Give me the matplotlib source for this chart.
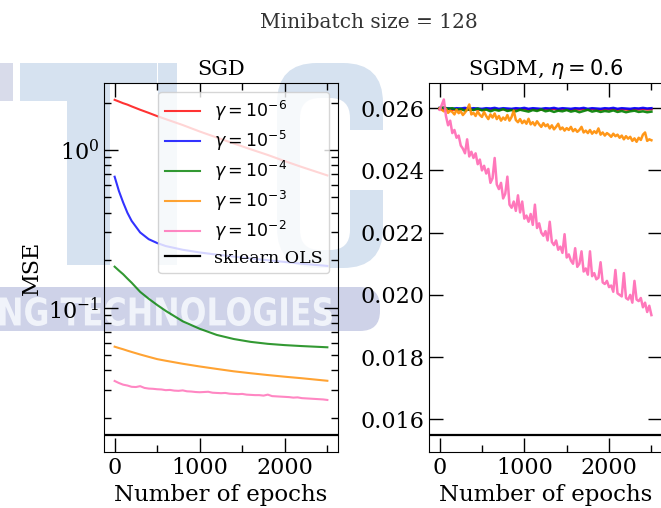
import numpy as np
import matplotlib
matplotlib.use('Agg')
import matplotlib.pyplot as plt
from matplotlib.patches import Rectangle, FancyBboxPatch, PathPatch
from matplotlib.textpath import TextPath
from matplotlib.font_manager import FontProperties
from matplotlib.transforms import Affine2D
from matplotlib.ticker import MultipleLocator

plt.rcParams['font.family'] = 'serif'
plt.rcParams['font.serif'] = ['DejaVu Serif']

# --- data ---
epochs_smooth = [0, 50, 100, 150, 200, 300, 400, 500, 600, 800, 1000, 1200, 1400,
                 1600, 1800, 2000, 2200, 2500]
sgd_g6 = [2.08, 2.03, 1.98, 1.94, 1.89, 1.80, 1.72, 1.64, 1.57, 1.44, 1.31, 1.20, 1.10,
          1.01, 0.93, 0.85, 0.78, 0.69]
sgd_g5 = [0.677, 0.55, 0.465, 0.40, 0.355, 0.30, 0.272, 0.257, 0.246, 0.233, 0.224,
          0.217, 0.211, 0.205, 0.200, 0.195, 0.190, 0.184]
sgd_g4 = [0.182, 0.172, 0.163, 0.153, 0.144, 0.126, 0.114, 0.104, 0.0955, 0.082, 0.0735,
          0.0672, 0.0633, 0.0607, 0.0590, 0.0579, 0.0571, 0.0561]
sgd_g3 = [0.0566, 0.0555, 0.0545, 0.0534, 0.0524, 0.0505, 0.0488, 0.0472, 0.0461, 0.0441,
          0.0424, 0.0409, 0.0395, 0.0384, 0.0374, 0.0365, 0.0357, 0.0344]

epochs_50 = list(range(0, 2501, 50))
sgd_g2 = [0.0343, 0.0333, 0.0325, 0.0321, 0.0315, 0.0314, 0.0318, 0.0310, 0.0307, 0.0306,
          0.0304, 0.0303, 0.0300, 0.0301, 0.0298, 0.0297, 0.0299, 0.0295, 0.0294, 0.0292,
          0.0291, 0.0292, 0.0293, 0.0289, 0.0288, 0.0287, 0.0288, 0.0285, 0.0284, 0.0283,
          0.0284, 0.0281, 0.0280, 0.0279, 0.0279, 0.0277, 0.0281, 0.0275, 0.0274, 0.0273,
          0.0272, 0.0271, 0.0269, 0.0270, 0.0267, 0.0266, 0.0265, 0.0264, 0.0263, 0.0262,
          0.0260]

sgdm_g6 = [0.02598, 0.02596, 0.02597, 0.02595, 0.02597, 0.02596, 0.02598, 0.02595, 0.02597, 0.02596,
           0.02595, 0.02597, 0.02596, 0.02598, 0.02595, 0.02597, 0.02596, 0.02595, 0.02597, 0.02596,
           0.02598, 0.02595, 0.02597, 0.02596, 0.02595, 0.02597, 0.02596, 0.02598, 0.02595, 0.02597,
           0.02596, 0.02595, 0.02597, 0.02596, 0.02598, 0.02595, 0.02597, 0.02596, 0.02595, 0.02597,
           0.02596, 0.02598, 0.02595, 0.02597, 0.02596, 0.02595, 0.02597, 0.02596, 0.02598, 0.02596,
           0.02597]
sgdm_g5 = [0.02601, 0.02599, 0.02600, 0.02598, 0.02600, 0.02599, 0.02601, 0.02598, 0.02600, 0.02599,
           0.02598, 0.02600, 0.02599, 0.02601, 0.02598, 0.02600, 0.02599, 0.02598, 0.02600, 0.02599,
           0.02601, 0.02598, 0.02600, 0.02599, 0.02598, 0.02600, 0.02599, 0.02601, 0.02598, 0.02600,
           0.02599, 0.02598, 0.02600, 0.02599, 0.02601, 0.02598, 0.02600, 0.02599, 0.02598, 0.02600,
           0.02599, 0.02601, 0.02598, 0.02600, 0.02599, 0.02598, 0.02600, 0.02599, 0.02601, 0.02599,
           0.02600]
sgdm_g4 = [0.02600, 0.02603, 0.02598, 0.02600, 0.02595, 0.02598, 0.02592, 0.02597, 0.02594, 0.02599,
           0.02593, 0.02596, 0.02590, 0.02595, 0.02592, 0.02597, 0.02591, 0.02594, 0.02590, 0.02595,
           0.02592, 0.02589, 0.02594, 0.02591, 0.02596, 0.02590, 0.02593, 0.02588, 0.02592, 0.02590,
           0.02594, 0.02589, 0.02592, 0.02587, 0.02591, 0.02595, 0.02589, 0.02592, 0.02588, 0.02591,
           0.02589, 0.02593, 0.02588, 0.02591, 0.02587, 0.02590, 0.02592, 0.02588, 0.02590, 0.02587,
           0.02589]

epochs_25 = list(range(0, 2501, 25))
sgdm_g3 = [0.02600, 0.02595, 0.02590, 0.02598, 0.02585, 0.02592, 0.02588, 0.02580, 0.02595, 0.02584,
           0.02590, 0.02578, 0.02586, 0.02596, 0.02612, 0.02580, 0.02585, 0.02575, 0.02590, 0.02578,
           0.02572, 0.02588, 0.02575, 0.02565, 0.02580, 0.02570, 0.02583, 0.02565, 0.02575, 0.02560,
           0.02570, 0.02563, 0.02578, 0.02560, 0.02572, 0.02592, 0.02562, 0.02555, 0.02565, 0.02552,
           0.02560, 0.02550, 0.02566, 0.02548, 0.02555, 0.02545, 0.02558, 0.02548, 0.02540, 0.02552,
           0.02542, 0.02548, 0.02535, 0.02545, 0.02532, 0.02540, 0.02550, 0.02532, 0.02538, 0.02528,
           0.02536, 0.02530, 0.02540, 0.02526, 0.02533, 0.02524, 0.02530, 0.02540, 0.02522, 0.02528,
           0.02520, 0.02530, 0.02518, 0.02526, 0.02520, 0.02535, 0.02515, 0.02522, 0.02512, 0.02520,
           0.02515, 0.02508, 0.02518, 0.02510, 0.02515, 0.02505, 0.02512, 0.02500, 0.02510, 0.02502,
           0.02508, 0.02495, 0.02503, 0.02492, 0.02505, 0.02498, 0.02515, 0.02522, 0.02495, 0.02500,
           0.02497]
sgdm_g2 = [0.02595, 0.02610, 0.02628, 0.02575, 0.02545, 0.02560, 0.02520, 0.02530, 0.02505, 0.02512,
           0.02480, 0.02470, 0.02455, 0.02500, 0.02445, 0.02460, 0.02440, 0.02455, 0.02420, 0.02435,
           0.02400, 0.02415, 0.02390, 0.02405, 0.02360, 0.02375, 0.02440, 0.02355, 0.02340, 0.02360,
           0.02310, 0.02325, 0.02380, 0.02290, 0.02280, 0.02300, 0.02270, 0.02320, 0.02265, 0.02300,
           0.02245, 0.02255, 0.02235, 0.02260, 0.02225, 0.02290, 0.02215, 0.02230, 0.02200, 0.02190,
           0.02205, 0.02175, 0.02235, 0.02170, 0.02160, 0.02175, 0.02145, 0.02155, 0.02135, 0.02195,
           0.02120, 0.02130, 0.02110, 0.02100, 0.02150, 0.02090, 0.02100, 0.02140, 0.02075, 0.02085,
           0.02065, 0.02140, 0.02060, 0.02070, 0.02050, 0.02055, 0.02105, 0.02040, 0.02035, 0.02045,
           0.02025, 0.02030, 0.02010, 0.02080, 0.02005, 0.02000, 0.01995, 0.02070, 0.01990, 0.01985,
           0.02000, 0.01975, 0.02045, 0.01985, 0.01980, 0.01990, 0.01960, 0.01975, 0.01945, 0.01965,
           0.01935]

ols_mse = 0.0155

labels = [r'$\gamma = 10^{-6}$', r'$\gamma = 10^{-5}$', r'$\gamma = 10^{-4}$',
          r'$\gamma = 10^{-3}$', r'$\gamma = 10^{-2}$']
colors = ['red', 'blue', 'green', 'darkorange', 'hotpink']

W, H = 661, 508
fig = plt.figure(figsize=(W / 100, H / 100), dpi=100)

# faint watermark that sits behind the plot in the reference
bg = fig.add_axes([0, 0, 1, 1], zorder=-10)
bg.set_xlim(0, W)
bg.set_ylim(H, 0)
bg.axis('off')
wm = '#d6e2f0'
bg.add_patch(Rectangle((0, 63), 13, 38, color='#d8dbea', lw=0))
bg.add_patch(Rectangle((20, 63), 90, 38, color=wm, lw=0))
bg.add_patch(Rectangle((110, 63), 47, 20, color=wm, lw=0))
bg.add_patch(Rectangle((67, 63), 43, 202, color=wm, lw=0))
bg.add_patch(Rectangle((158, 63), 19, 202, color=wm, lw=0))
bg.add_patch(FancyBboxPatch((277, 63), 106, 205, boxstyle='round,pad=0,rounding_size=40',
                            color=wm, lw=0))
bg.add_patch(FancyBboxPatch((300, 98), 50, 152, boxstyle='round,pad=0,rounding_size=20',
                            color='white', lw=0))
bg.add_patch(Rectangle((345, 130), 50, 60, color='white', lw=0))
bg.add_patch(FancyBboxPatch((-30, 287), 410, 44, boxstyle='round,pad=0,rounding_size=20',
                            color='#ced2e8', lw=0))
tp = TextPath((0, 0), 'NG TECHNOLOGIES', size=1,
              prop=FontProperties(family='DejaVu Sans', weight='bold'))
ext = tp.get_extents()
tr = Affine2D().translate(-ext.x0, -ext.y0).scale(332 / ext.width, -29 / ext.height).translate(0, 326)
bg.add_patch(PathPatch(tr.transform_path(tp), color='#f0f3fa', lw=0))

ax1 = fig.add_axes([104 / W, 1 - 452 / H, 234 / W, 369 / H])
ax2 = fig.add_axes([429 / W, 1 - 452 / H, 233 / W, 369 / H])

sgd_series = [(epochs_smooth, sgd_g6), (epochs_smooth, sgd_g5), (epochs_smooth, sgd_g4),
              (epochs_smooth, sgd_g3), (epochs_50, sgd_g2)]
for (ep, vals), c, lab in zip(sgd_series, colors, labels):
    ax1.plot(ep, vals, color=c, lw=1.5, alpha=0.8, label=lab)
ax1.axhline(ols_mse, color='black', lw=1.6, label='sklearn OLS')
ax1.set_yscale('log')
ax1.set_ylim(0.01216, 2.66)
ax1.set_title('SGD', fontsize=15)
ax1.set_ylabel('MSE', fontsize=16)
ax1.legend(loc='upper right', fontsize=12.5, labelspacing=0.35)

sgdm_series = [(epochs_50, sgdm_g6), (epochs_50, sgdm_g5), (epochs_50, sgdm_g4),
               (epochs_25, sgdm_g3), (epochs_25, sgdm_g2)]
for (ep, vals), c in zip(sgdm_series, colors):
    ax2.plot(ep, vals, color=c, lw=1.8, alpha=0.9)
ax2.axhline(ols_mse, color='black', lw=1.6)
ax2.set_ylim(0.01495, 0.02681)
ax2.set_yticks([0.016, 0.018, 0.020, 0.022, 0.024, 0.026])
ax2.set_yticklabels(['0.016', '0.018', '0.020', '0.022', '0.024', '0.026'])
ax2.set_title(r'SGDM, $\eta = 0.6$', fontsize=15)

for ax in (ax1, ax2):
    ax.set_facecolor('none')
    ax.set_xlim(-125, 2625)
    ax.xaxis.set_major_locator(MultipleLocator(1000))
    ax.xaxis.set_minor_locator(MultipleLocator(500))
    ax.set_xlabel('Number of epochs', fontsize=16.5)
    ax.tick_params(which='both', direction='in', top=True, right=True, labelsize=16)
    ax.tick_params(which='major', length=10, width=1)
    ax.tick_params(which='minor', length=5, width=1)

fig.text(368.6 / W, 1 - 23 / H, 'Minibatch size = 128', ha='center', va='center',
         fontsize=14.5, color='#333333')

fig.savefig('out.png', dpi=100)
